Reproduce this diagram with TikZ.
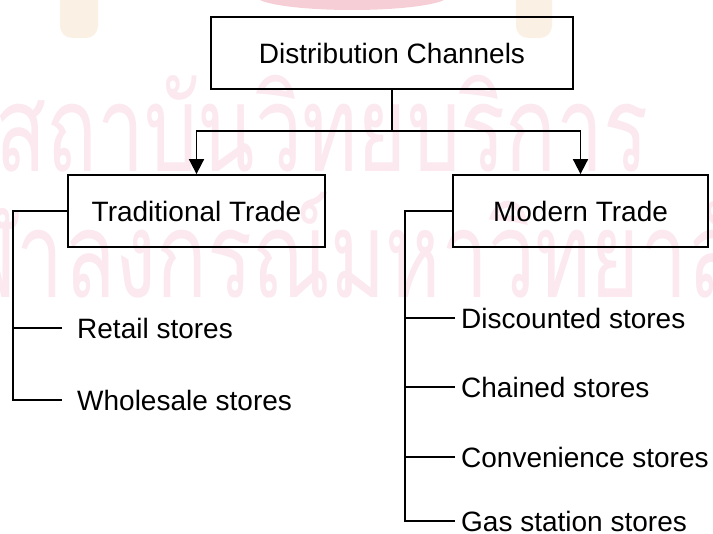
\documentclass[tikz,border=0pt]{standalone}
\usepackage{fontspec}
\setmainfont{Liberation Sans}
\newfontfamily\thaiwm[Script=Thai]{Loma}
\usetikzlibrary{arrows.meta}

\definecolor{wmpink}{RGB}{251,233,239}
\definecolor{wmred}{RGB}{246,206,214}
\definecolor{wmgold}{RGB}{250,241,228}

\tikzset{
  box/.style={draw, line width=1.8pt, minimum height=72pt, inner sep=0pt,
              font=\fontsize{28}{31}\selectfont},
  leafL/.style={anchor=west, inner ysep=0pt, inner xsep=15pt,
                font=\fontsize{28}{31}\selectfont},
  leafR/.style={anchor=west, inner ysep=0pt, inner xsep=6pt,
                font=\fontsize{28}{31}\selectfont},
  link/.style={line width=1.8pt},
  arrowlink/.style={link, -{Triangle[length=15pt,width=15pt]}},
  watermark/.style={anchor=base west, inner sep=0pt, text=wmpink,
                    font=\fontsize{120}{120}\thaiwm}
}

\begin{document}
\begin{tikzpicture}[x=1pt, y=-1pt]
  \useasboundingbox (0,0) rectangle (713,534);
  \fill[white] (0,0) rectangle (713,534);

  % faint background watermark
  \begin{scope}
    \clip (0,0) rectangle (713,534);
    \fill[wmred] (352,-4) ellipse [x radius=96, y radius=14];
    \fill[wmgold, rounded corners=12pt] (60,-20) rectangle (98,38);
    \fill[wmgold, rounded corners=12pt] (516,-20) rectangle (552,38);
    \node[watermark] (wm1) at (-5,172) {\scalebox{0.7}[1]{สถาบันวิทยบริการ}};
    \node[watermark] (wm2) at (-90,298) {\scalebox{0.7}[1]{จุฬาลงกรณ์มหาวิทยาลัย}};
  \end{scope}

  % main boxes
  \node[box, minimum width=362pt] (dist)   at (392,53)    {Distribution Channels};
  \node[box, minimum width=257pt] (trad)   at (196.5,211) {Traditional Trade};
  \node[box, minimum width=255pt] (modern) at (580.5,211) {Modern Trade};

  % split from the top box into the two trade types
  \coordinate (split) at (392,131);
  \draw[link] (dist.south) -- (split);
  \draw[arrowlink] (split) -| (trad.north);
  \draw[arrowlink] (split) -| (modern.north);

  % traditional trade outlets
  \node[leafL] (retail)    at (62,328) {Retail stores};
  \node[leafL] (wholesale) at (62,400) {Wholesale stores};
  \coordinate (ltrunk) at (13,400);
  \draw[link] (trad.west) -| (ltrunk) -- (wholesale.west);
  \draw[link] (retail.west) -- (retail.west -| ltrunk);

  % modern trade outlets
  \node[leafR] (disc)  at (455,318) {Discounted stores};
  \node[leafR] (chain) at (455,387) {Chained stores};
  \node[leafR] (conv)  at (455,457) {Convenience stores};
  \node[leafR] (gas)   at (455,521) {Gas station stores};
  \coordinate (rtrunk) at (405,521);
  \draw[link] (modern.west) -| (rtrunk) -- (gas.west);
  \draw[link] (disc.west)  -- (disc.west -| rtrunk);
  \draw[link] (chain.west) -- (chain.west -| rtrunk);
  \draw[link] (conv.west)  -- (conv.west -| rtrunk);
\end{tikzpicture}
\end{document}
